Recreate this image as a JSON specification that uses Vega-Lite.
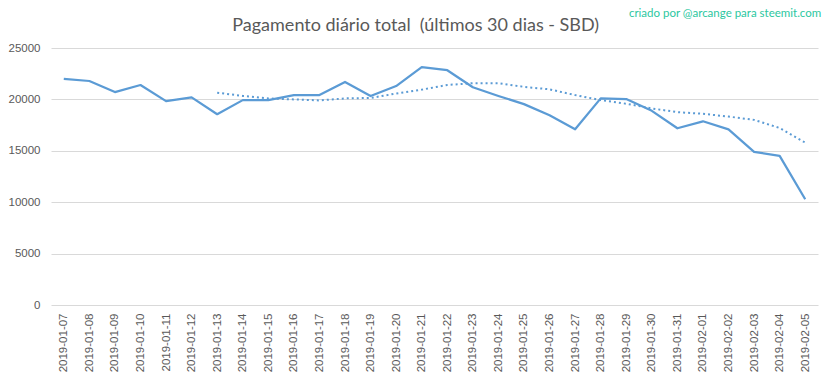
{
  "$schema": "https://vega.github.io/schema/vega-lite/v6.json",
  "autosize": "none",
  "width": 767,
  "height": 257,
  "padding": {"left": 51, "top": 48, "right": 15, "bottom": 74},
  "background": "white",
  "config": {
    "view": {"stroke": null},
    "font": "Lato"
  },
  "data": {
    "values": [
      {"date": "2019-01-07", "total": 21990, "media": null},
      {"date": "2019-01-08", "total": 21790, "media": null},
      {"date": "2019-01-09", "total": 20715, "media": null},
      {"date": "2019-01-10", "total": 21400, "media": null},
      {"date": "2019-01-11", "total": 19830, "media": null},
      {"date": "2019-01-12", "total": 20200, "media": null},
      {"date": "2019-01-13", "total": 18560, "media": 20650},
      {"date": "2019-01-14", "total": 19930, "media": 20340},
      {"date": "2019-01-15", "total": 19930, "media": 20090},
      {"date": "2019-01-16", "total": 20420, "media": 20000},
      {"date": "2019-01-17", "total": 20420, "media": 19900},
      {"date": "2019-01-18", "total": 21700, "media": 20100},
      {"date": "2019-01-19", "total": 20330, "media": 20140},
      {"date": "2019-01-20", "total": 21300, "media": 20570},
      {"date": "2019-01-21", "total": 23140, "media": 20950},
      {"date": "2019-01-22", "total": 22840, "media": 21400},
      {"date": "2019-01-23", "total": 21180, "media": 21580},
      {"date": "2019-01-24", "total": 20330, "media": 21580},
      {"date": "2019-01-25", "total": 19540, "media": 21220},
      {"date": "2019-01-26", "total": 18460, "media": 20980},
      {"date": "2019-01-27", "total": 17090, "media": 20420},
      {"date": "2019-01-28", "total": 20100, "media": 19930},
      {"date": "2019-01-29", "total": 20030, "media": 19580},
      {"date": "2019-01-30", "total": 18890, "media": 19120},
      {"date": "2019-01-31", "total": 17190, "media": 18760},
      {"date": "2019-02-01", "total": 17870, "media": 18600},
      {"date": "2019-02-02", "total": 17090, "media": 18330},
      {"date": "2019-02-03", "total": 14900, "media": 18010},
      {"date": "2019-02-04", "total": 14510, "media": 17220},
      {"date": "2019-02-05", "total": 10290, "media": 15800}
    ]
  },
  "encoding": {
    "x": {
      "field": "date",
      "type": "ordinal",
      "sort": null,
      "scale": {"type": "point", "padding": 0.5},
      "axis": {
        "title": null,
        "labelAngle": -90,
        "labelAlign": "right",
        "labelBaseline": "middle",
        "labelFont": "Liberation Sans",
        "labelFontSize": 11.5,
        "labelColor": "#595959",
        "labelPadding": 8,
        "ticks": false,
        "domain": false,
        "grid": false
      }
    }
  },
  "layer": [
    {
      "mark": {"type": "line", "color": "#5B9BD5", "strokeWidth": 2.25, "strokeJoin": "round"},
      "encoding": {
        "y": {
          "field": "total",
          "type": "quantitative",
          "scale": {"domain": [0, 25000], "nice": false},
          "axis": {
            "title": null,
            "values": [0, 5000, 10000, 15000, 20000, 25000],
            "format": "d",
            "labelFont": "Liberation Sans",
            "labelFontSize": 11.5,
            "labelColor": "#595959",
            "labelPadding": 11,
            "ticks": false,
            "domain": false,
            "gridColor": "#D9D9D9",
            "gridWidth": 1
          }
        }
      }
    },
    {
      "mark": {"type": "line", "color": "#5B9BD5", "strokeWidth": 2, "strokeDash": [2, 3]},
      "encoding": {
        "y": {"field": "media", "type": "quantitative"}
      }
    },
    {
      "data": {"values": [{"texto": "criado por @arcange para steemit.com"}]},
      "mark": {"type": "text", "align": "right", "baseline": "alphabetic", "color": "#2BC7A0", "fontSize": 11.5, "font": "Lato", "dx": 16},
      "encoding": {
        "x": {"datum": "2019-02-05"},
        "y": {"datum": 28000},
        "text": {"field": "texto"}
      }
    },
    {
      "data": {"values": [{"texto": "Pagamento diário total \u00a0(últimos 30 dias - SBD)"}]},
      "mark": {"type": "text", "align": "center", "baseline": "alphabetic", "color": "#595959", "fontSize": 18, "font": "Lato", "dx": -6},
      "encoding": {
        "x": {"datum": "2019-01-21"},
        "y": {"datum": 26700},
        "text": {"field": "texto"}
      }
    }
  ]
}
